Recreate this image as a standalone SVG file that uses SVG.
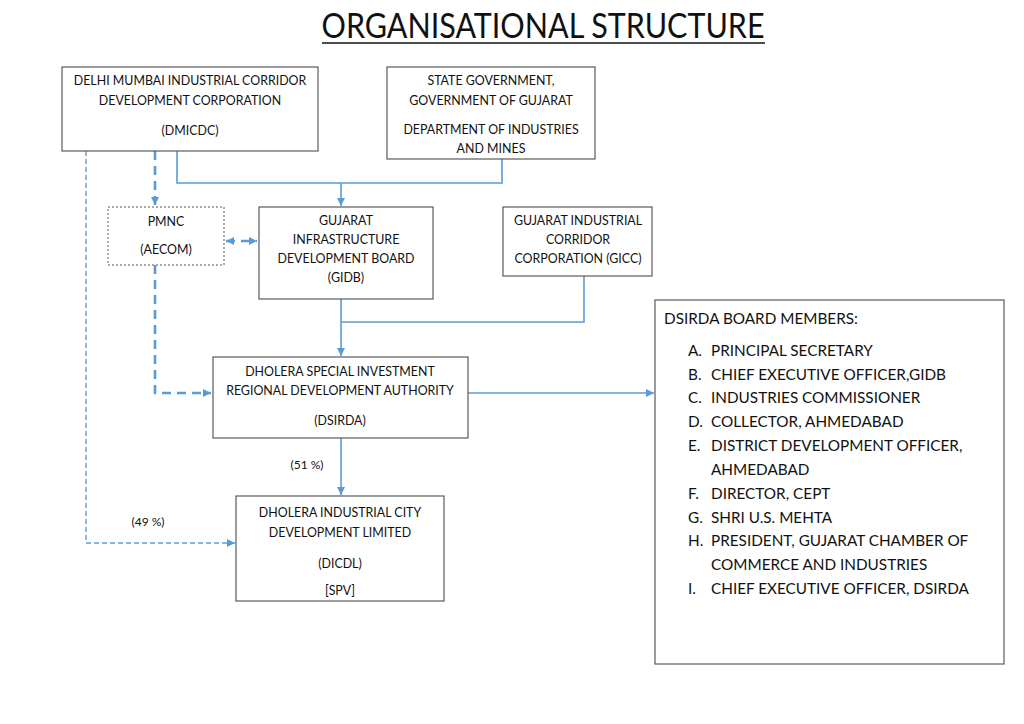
<svg xmlns="http://www.w3.org/2000/svg" width="1024" height="724" viewBox="0 0 1024 724">
<defs>
<style>
text{font-family:Lato,"Open Sans","Liberation Sans",sans-serif;fill:#111}
.b{font-size:12.4px;text-anchor:middle}
.m{font-size:15.3px}
.box{fill:#fff;stroke:#5a5a5a;stroke-width:1.2}
.c{fill:none;stroke:#5B9BD5;stroke-width:1.6}
.d{fill:none;stroke:#5B9BD5;stroke-width:2.6;stroke-dasharray:9 6}
.t{fill:none;stroke:#5B9BD5;stroke-width:1.4;stroke-dasharray:5 3}
</style>
<marker id="a" viewBox="0 0 10 10" refX="10" refY="5" markerWidth="8" markerHeight="8" markerUnits="userSpaceOnUse" orient="auto-start-reverse"><path d="M0,0L10,5L0,10z" fill="#5B9BD5"/></marker>
</defs>
<rect width="1024" height="724" fill="#fff"/>
<g id="title">
<text x="543" y="38" font-size="34" text-anchor="middle" textLength="443" lengthAdjust="spacingAndGlyphs">ORGANISATIONAL STRUCTURE</text>
<line x1="322" y1="43" x2="765" y2="43" stroke="#111" stroke-width="1.5"/>
</g>
<g id="connectors">
<path class="c" d="M177,151V183H502V159"/>
<path class="c" d="M341,183V206" marker-end="url(#a)"/>
<path class="d" d="M155,151V205" marker-end="url(#a)"/>
<path class="d" d="M226,241H257" marker-start="url(#a)" marker-end="url(#a)"/>
<path class="c" d="M584,276V322H341"/>
<path class="c" d="M341,299V356" marker-end="url(#a)"/>
<path class="d" d="M155,265V393H211" marker-end="url(#a)"/>
<path class="c" d="M468,393H654" marker-end="url(#a)"/>
<path class="c" d="M341,438V495" marker-end="url(#a)"/>
<path class="t" d="M86,151V543H235" marker-end="url(#a)"/>
<text x="307" y="469" font-size="12" text-anchor="middle">(51 %)</text>
<text x="148" y="526" font-size="12" text-anchor="middle">(49 %)</text>
</g>
<g id="dmicdc">
<rect class="box" x="62" y="67" width="256" height="84"/>
<text class="b" x="190" y="85">DELHI MUMBAI INDUSTRIAL CORRIDOR</text>
<text class="b" x="190" y="105">DEVELOPMENT CORPORATION</text>
<text class="b" x="190" y="135">(DMICDC)</text>
</g>
<g id="stategov">
<rect class="box" x="387" y="67" width="208" height="92"/>
<text class="b" x="491" y="85">STATE GOVERNMENT,</text>
<text class="b" x="491" y="105">GOVERNMENT OF GUJARAT</text>
<text class="b" x="491" y="134">DEPARTMENT OF INDUSTRIES</text>
<text class="b" x="491" y="153">AND MINES</text>
</g>
<g id="pmnc">
<rect x="108" y="207" width="116" height="58" fill="#fff" stroke="#555" stroke-width="1" stroke-dasharray="2 2"/>
<text class="b" x="166" y="226">PMNC</text>
<text class="b" x="166" y="254">(AECOM)</text>
</g>
<g id="gidb">
<rect class="box" x="259" y="207" width="174" height="92"/>
<text class="b" x="346" y="225">GUJARAT</text>
<text class="b" x="346" y="244">INFRASTRUCTURE</text>
<text class="b" x="346" y="263">DEVELOPMENT BOARD</text>
<text class="b" x="346" y="282">(GIDB)</text>
</g>
<g id="gicc">
<rect class="box" x="503" y="207" width="149" height="69"/>
<text class="b" x="578" y="225">GUJARAT INDUSTRIAL</text>
<text class="b" x="578" y="244">CORRIDOR</text>
<text class="b" x="578" y="263">CORPORATION (GICC)</text>
</g>
<g id="dsirda">
<rect class="box" x="213" y="357" width="255" height="81"/>
<text class="b" x="340" y="376">DHOLERA SPECIAL INVESTMENT</text>
<text class="b" x="340" y="395">REGIONAL DEVELOPMENT AUTHORITY</text>
<text class="b" x="340" y="425">(DSIRDA)</text>
</g>
<g id="dicdl">
<rect class="box" x="236" y="496" width="208" height="105"/>
<text class="b" x="340" y="517">DHOLERA INDUSTRIAL CITY</text>
<text class="b" x="340" y="537">DEVELOPMENT LIMITED</text>
<text class="b" x="340" y="568">(DICDL)</text>
<text class="b" x="340" y="595">[SPV]</text>
</g>
<g id="board">
<rect class="box" x="655" y="300" width="349" height="364"/>
<text class="m" x="664" y="324">DSIRDA BOARD MEMBERS:</text>
<text class="m" x="688" y="356">A.</text><text class="m" x="711" y="356">PRINCIPAL SECRETARY</text>
<text class="m" x="688" y="380">B.</text><text class="m" x="711" y="380">CHIEF EXECUTIVE OFFICER,GIDB</text>
<text class="m" x="688" y="403">C.</text><text class="m" x="711" y="403">INDUSTRIES COMMISSIONER</text>
<text class="m" x="688" y="427">D.</text><text class="m" x="711" y="427">COLLECTOR, AHMEDABAD</text>
<text class="m" x="688" y="451">E.</text><text class="m" x="711" y="451">DISTRICT DEVELOPMENT OFFICER,</text>
<text class="m" x="711" y="475">AHMEDABAD</text>
<text class="m" x="688" y="499">F.</text><text class="m" x="711" y="499">DIRECTOR, CEPT</text>
<text class="m" x="688" y="523">G.</text><text class="m" x="711" y="523">SHRI U.S. MEHTA</text>
<text class="m" x="688" y="546">H.</text><text class="m" x="711" y="546">PRESIDENT, GUJARAT CHAMBER OF</text>
<text class="m" x="711" y="570">COMMERCE AND INDUSTRIES</text>
<text class="m" x="688" y="594">I.</text><text class="m" x="711" y="594">CHIEF EXECUTIVE OFFICER, DSIRDA</text>
</g>
</svg>
